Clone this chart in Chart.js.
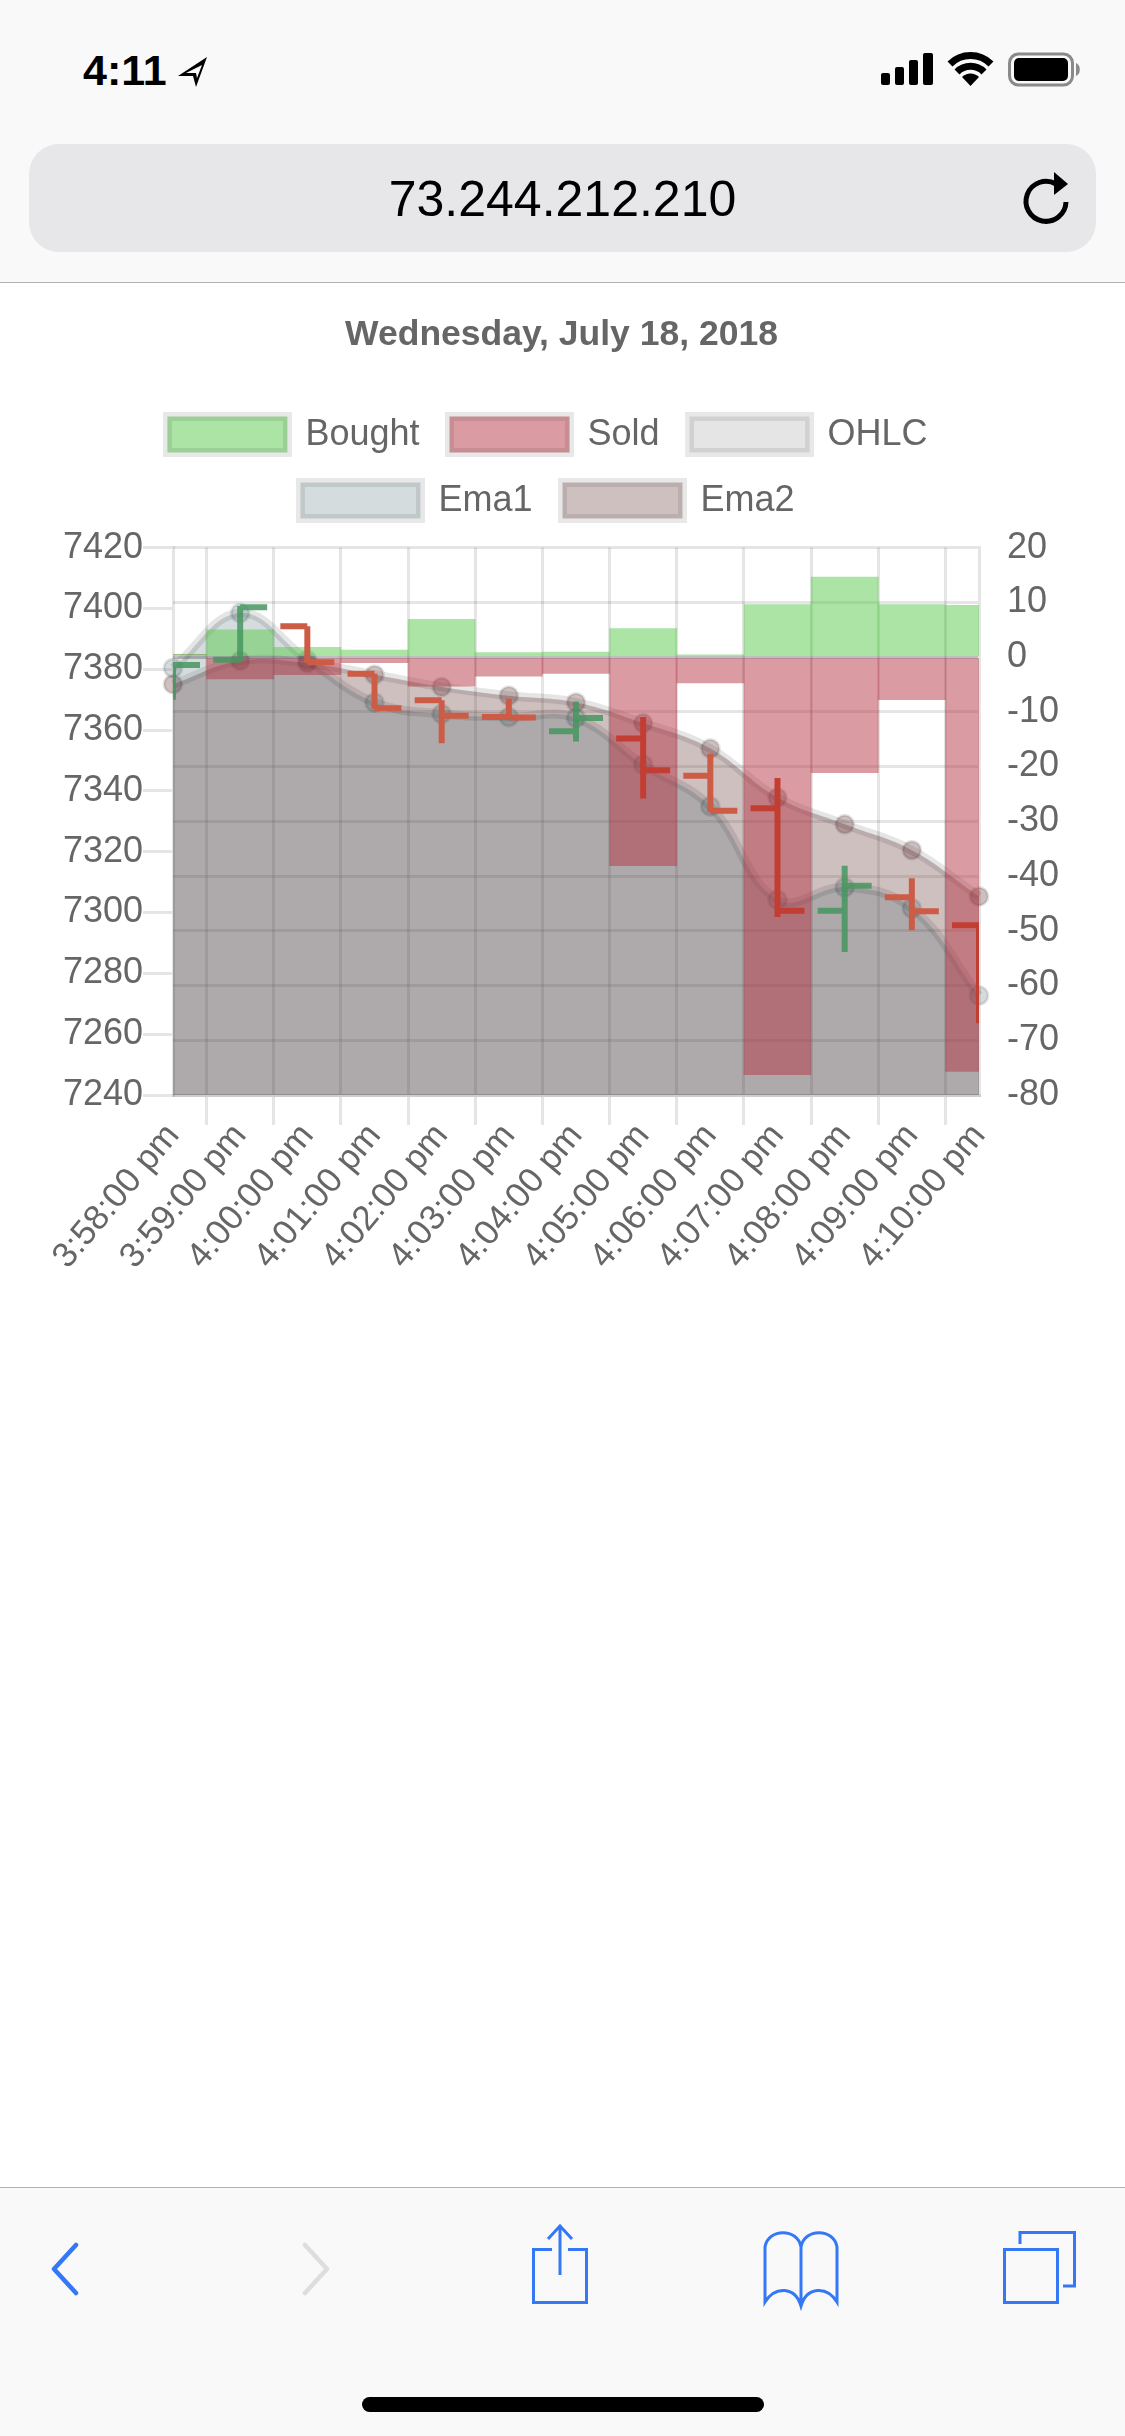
<!DOCTYPE html>
<html>
<head>
<meta charset="utf-8">
<title>73.244.212.210</title>
<script src="https://cdn.jsdelivr.net/npm/chart.js@4/dist/chart.umd.min.js"></script>
<style>
  html, body { margin: 0; padding: 0; background: #fff; }
  body { position: relative; width: 1125px; height: 2436px; overflow: hidden; font-family: "Liberation Sans", sans-serif; }
  .bar-top { position: absolute; left: 0; top: 0; width: 1125px; height: 282px; background: #f9f9f9; border-bottom: 1px solid #b2b2b2; }
  .bar-bottom { position: absolute; left: 0; top: 2187px; width: 1125px; height: 249px; background: #f9f9f9; border-top: 1px solid #b2b2b2; }
  .time { position: absolute; left: 83px; top: 45px; font-size: 43px; line-height: 50px; font-weight: bold; color: #000; }
  .url-box { position: absolute; left: 29px; top: 144px; width: 1067px; height: 108px; border-radius: 30px; background: #e7e7e9; }
  .url { position: absolute; left: 0; top: 170px; width: 1125px; text-align: center; font-size: 50px; line-height: 58px; color: #000; }
  .home { position: absolute; left: 362px; top: 2397px; width: 402px; height: 15px; border-radius: 8px; background: #000; }
  svg.icons { position: absolute; left: 0; top: 0; width: 1125px; height: 2436px; pointer-events: none; }
  canvas { position: absolute; left: 24px; top: 283px; }
</style>
</head>
<body>
<div class="bar-top"></div>
<div class="bar-bottom"></div>
<div class="time">4:11</div>
<div class="url-box"></div>
<div class="url">73.244.212.210</div>
<div class="home"></div>
<svg class="icons" viewBox="0 0 1125 2436">
  <!-- status bar -->
  <path d="M207 57 L178 76 L193 76 L196 87 Z M202 65 L186 73 L196 73 L197 78 Z" fill="#000" fill-rule="evenodd"/>
  <rect x="881" y="73" width="9" height="12" rx="2"/>
  <rect x="895" y="67" width="9" height="18" rx="2"/>
  <rect x="909" y="60" width="9" height="25" rx="2"/>
  <rect x="923" y="53" width="10" height="32" rx="2"/>
  <path d="M950 64 A29 29 0 0 1 991 64" fill="none" stroke="#000" stroke-width="7"/>
  <path d="M957 72 A19 19 0 0 1 984 72" fill="none" stroke="#000" stroke-width="7"/>
  <path d="M962 77 L970.500 86 L979 77 A12 12 0 0 0 962 77 Z" fill="#000"/>
  <rect x="1009.500" y="54" width="63" height="31" rx="9" fill="none" stroke="#8a8a8a" stroke-width="3"/>
  <rect x="1014" y="58" width="54" height="23" rx="5" fill="#000"/>
  <path d="M1076 63 A6 7 0 0 1 1076 76 Z" fill="#8a8a8a"/>
  <!-- reload -->
  <path d="M1056 184 A20 20 0 1 0 1066 202" fill="none" stroke="#000" stroke-width="5"/>
  <path d="M1054 172 L1068 184 L1054 195 Z" fill="#000"/>
  <!-- bottom toolbar -->
  <path d="M76 2245 L54 2269 L76 2293" fill="none" stroke="#3478f6" stroke-width="4.500" stroke-linecap="round" stroke-linejoin="round"/>
  <path d="M305 2245 L327 2269 L305 2293" fill="none" stroke="#dedede" stroke-width="4.500" stroke-linecap="round" stroke-linejoin="round"/>
  <g fill="none" stroke="#3478f6" stroke-width="3">
    <path d="M552 2249.500 H533.500 V2302.500 H586.500 V2249.500 H568"/>
    <path d="M560 2275 V2226 M548 2239 L560 2226 L572 2239"/>
    <path d="M801 2247 C798 2228 768 2228 765 2247 V2302 C775 2286 795 2286 801 2306 C807 2286 827 2286 837 2302 V2247 C834 2228 804 2228 801 2247 V2306"/>
    <rect x="1004.500" y="2249.500" width="53" height="53"/>
    <path d="M1020 2244 V2232.500 H1074.500 V2286 H1063"/>
  </g>
</svg>
<canvas id="chart" width="1077" height="1000"></canvas>

<script>
const chartTitle = 'Wednesday, July 18, 2018';
const times = ['3:58:00 pm', '3:59:00 pm', '4:00:00 pm', '4:01:00 pm', '4:02:00 pm', '4:03:00 pm', '4:04:00 pm',
  '4:05:00 pm', '4:06:00 pm', '4:07:00 pm', '4:08:00 pm', '4:09:00 pm', '4:10:00 pm'];

const bought = [0.5, 5, 1.8, 1.3, 6.9, 0.8, 0.9, 5.2, 0.4, 9.6, 14.6, 9.6, 9.45];
const sold = [0, -4, -3.2, -1, -5.3, -3.5, -3, -38.1, -4.7, -76.3, -21.1, -7.8, -75.7];

const ema1 = [7380.4, 7398.5, 7383.1, 7369.1, 7365.3, 7364.3, 7364, 7348.6, 7334.9, 7304.2, 7308.3, 7301.4, 7272.7];
const ema2 = [7375.1, 7382.8, 7382, 7378.2, 7374.2, 7371.3, 7369.1, 7362.3, 7353.9, 7337.8, 7329, 7320.5, 7305.3];

const open = [7375, 7383.1, 7394.1, 7378.5, 7369.8, 7364.3, 7359.6, 7357.2, 7345, 7334.3, 7300.6, 7305, 7295.8];
const high = [7381.4, 7400.8, 7394.1, 7378.5, 7369.8, 7370.3, 7369.4, 7364.3, 7352.2, 7344.2, 7315.4, 7311.3, 7295.8];
const low = [7370, 7382.4, 7382, 7367, 7355.7, 7363.5, 7356.2, 7337.5, 7333, 7298.5, 7287, 7294.2, 7263.6];
const close = [7381.4, 7400.4, 7382.3, 7367.2, 7364.7, 7364.1, 7364, 7346.8, 7333.5, 7300.6, 7308.8, 7300.4, 7272];

const GRID = 'rgba(0,0,0,0.1)';
const FONT = '"Liberation Sans", sans-serif';
Chart.defaults.font.family = FONT;
Chart.defaults.font.size = 36;
Chart.defaults.color = '#666';

// open / high-low / close marks, on top of everything else
const ohlcPlugin = {
  id: 'ohlc',
  afterDatasetsDraw(chart) {
    const { ctx, chartArea, scales } = chart;
    ctx.save();
    ctx.beginPath();
    ctx.rect(chartArea.left, chartArea.top, chartArea.right - chartArea.left, chartArea.bottom - chartArea.top);
    ctx.clip();
    ctx.lineWidth = 6;
    times.forEach((t, i) => {
      const x = scales.x.getPixelForValue(i);
      const y = v => scales.y.getPixelForValue(v);
      if (close[i] >= open[i]) ctx.strokeStyle = 'rgba(70,150,95,0.85)';
      else ctx.strokeStyle = sold[i] < -30 ? '#c33e32' : '#cd5c46';
      ctx.beginPath();
      ctx.moveTo(x, y(high[i]));
      ctx.lineTo(x, y(low[i]));
      ctx.moveTo(x - 27, y(open[i]));
      ctx.lineTo(x, y(open[i]));
      ctx.moveTo(x, y(close[i]));
      ctx.lineTo(x + 27, y(close[i]));
      ctx.stroke();
    });
    ctx.restore();
  }
};

// room under the legend, and centre its rows the way the older library did
const legendPlugin = {
  id: 'legendRoom',
  beforeInit(chart) {
    const fit = chart.legend.fit;
    chart.legend.fit = function () {
      fit.call(this);
      this.height += 19;
    };
  },
  afterLayout(chart) {
    chart.legend.left -= 28;
  }
};

new Chart(document.getElementById('chart'), {
  data: {
    labels: times,
    datasets: [
      { type: 'bar', label: 'Bought', data: bought, yAxisID: 'y1', backgroundColor: 'rgba(87,201,75,0.5)', borderWidth: 0, barPercentage: 1, categoryPercentage: 1 },
      { type: 'bar', label: 'Sold', data: sold, yAxisID: 'y1', backgroundColor: 'rgba(181,55,69,0.5)', borderWidth: 0, barPercentage: 1, categoryPercentage: 1 },
      { type: 'line', label: 'OHLC', data: close, yAxisID: 'y', backgroundColor: GRID, showLine: false, pointRadius: 0, fill: false },
      { type: 'line', label: 'Ema1', data: ema1, yAxisID: 'y', backgroundColor: 'rgba(40,80,85,0.2)', borderColor: GRID, borderWidth: 9, tension: 0.4, fill: 'origin',
        pointRadius: 9, pointBorderWidth: 3, pointBackgroundColor: 'rgba(40,80,85,0.2)', pointBorderColor: GRID },
      { type: 'line', label: 'Ema2', data: ema2, yAxisID: 'y', backgroundColor: 'rgba(95,45,48,0.3)', borderColor: GRID, borderWidth: 9, tension: 0.4, fill: 'origin',
        pointRadius: 9, pointBorderWidth: 3, pointBackgroundColor: 'rgba(95,45,48,0.3)', pointBorderColor: GRID }
    ]
  },
  options: {
    responsive: false,
    devicePixelRatio: 1,
    animation: false,
    layout: { padding: { left: 40, right: 42, top: 0, bottom: 0 } },
    plugins: {
      title: { display: true, text: chartTitle, color: '#666', font: { size: 35.5, weight: 'bold' }, padding: { top: 31, bottom: 30 } },
      legend: {
        labels: {
          boxWidth: 120,
          boxHeight: 36,
          padding: 30,
          color: '#666',
          generateLabels: chart => chart.data.datasets.map((ds, i) => ({
            text: ds.label,
            fillStyle: ds.backgroundColor,
            strokeStyle: 'rgba(0,0,0,0.09)',
            fontColor: '#666',
            lineWidth: 9,
            datasetIndex: i
          }))
        }
      },
      tooltip: { enabled: false }
    },
    scales: {
      x: {
        stacked: true,
        offset: false,
        afterFit: s => { s.height = 188; },
        grid: { offset: true, color: GRID, lineWidth: 3, tickLength: 30 },
        border: { color: GRID, width: 3 },
        ticks: { minRotation: 50, maxRotation: 50, autoSkip: false, padding: -9, font: { size: 35 } }
      },
      y: {
        position: 'left',
        min: 7240,
        max: 7420,
        afterFit: s => { s.width = 109; },
        grid: { drawOnChartArea: false, color: GRID, lineWidth: 3, tickLength: 30 },
        border: { color: GRID, width: 3 },
        ticks: { stepSize: 20, padding: 0, callback: v => String(v) }
      },
      y1: {
        position: 'right',
        stacked: true,
        min: -80,
        max: 20,
        afterFit: s => { s.width = 80; },
        grid: { drawTicks: false, lineWidth: 3, color: c => c.tick && c.tick.value === 0 ? 'rgba(0,0,0,0.25)' : GRID },
        border: { color: GRID, width: 3 },
        ticks: { stepSize: 10, padding: 28 }
      }
    }
  },
  plugins: [ohlcPlugin, legendPlugin]
});
</script>
</body>
</html>
